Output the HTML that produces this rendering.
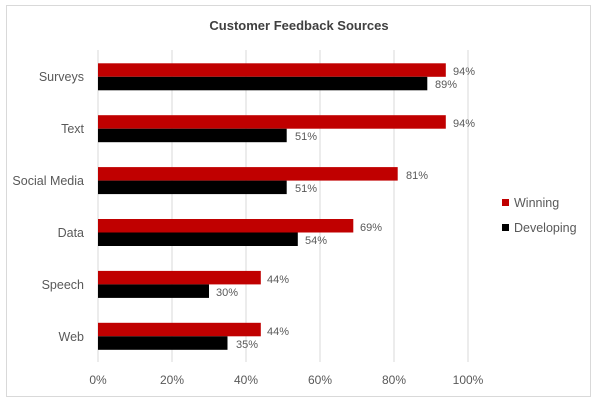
<!DOCTYPE html>
<html><head><meta charset="utf-8"><style>
html,body{margin:0;padding:0;background:#fff}
svg{display:block;font-family:"Liberation Sans",sans-serif}
</style></head><body>
<svg width="600" height="406" viewBox="0 0 600 406">
<rect x="6.5" y="5.5" width="584" height="391" fill="#fff" stroke="#d9d9d9"/>
<text x="299" y="30" text-anchor="middle" font-size="13" font-weight="bold" fill="#404040">Customer Feedback Sources</text>
<g stroke="#d9d9d9" stroke-width="1">
<line x1="98" y1="50" x2="98" y2="362"/><line x1="172" y1="50" x2="172" y2="362"/><line x1="246" y1="50" x2="246" y2="362"/><line x1="320" y1="50" x2="320" y2="362"/><line x1="394" y1="50" x2="394" y2="362"/><line x1="468" y1="50" x2="468" y2="362"/>
</g>
<g font-size="12" fill="#595959" text-anchor="middle">
<text x="98" y="384">0%</text><text x="172" y="384">20%</text><text x="246" y="384">40%</text><text x="320" y="384">60%</text><text x="394" y="384">80%</text><text x="468" y="384">100%</text>
</g>
<g font-size="12.5" fill="#595959" text-anchor="end">
<text x="84" y="81">Surveys</text><text x="84" y="133">Text</text><text x="84" y="185">Social Media</text><text x="84" y="237">Data</text><text x="84" y="289">Speech</text><text x="84" y="341">Web</text>
</g>
<g font-size="11" fill="#595959">
<rect x="98" y="63.3" width="347.8" height="13.5" fill="#c00000"/><rect x="98" y="76.8" width="329.3" height="13.5" fill="#000"/>
<text x="453" y="75">94%</text><text x="435" y="88">89%</text>
<rect x="98" y="115.2" width="347.8" height="13.5" fill="#c00000"/><rect x="98" y="128.7" width="188.7" height="13.5" fill="#000"/>
<text x="453" y="127">94%</text><text x="295" y="140">51%</text>
<rect x="98" y="167.1" width="299.7" height="13.5" fill="#c00000"/><rect x="98" y="180.6" width="188.7" height="13.5" fill="#000"/>
<text x="406" y="179">81%</text><text x="295" y="192">51%</text>
<rect x="98" y="219" width="255.3" height="13.5" fill="#c00000"/><rect x="98" y="232.5" width="199.8" height="13.5" fill="#000"/>
<text x="360" y="231">69%</text><text x="305" y="244">54%</text>
<rect x="98" y="270.9" width="162.8" height="13.5" fill="#c00000"/><rect x="98" y="284.4" width="111" height="13.5" fill="#000"/>
<text x="267" y="283">44%</text><text x="216" y="296">30%</text>
<rect x="98" y="322.8" width="162.8" height="13.5" fill="#c00000"/><rect x="98" y="336.3" width="129.5" height="13.5" fill="#000"/>
<text x="267" y="335">44%</text><text x="236" y="348">35%</text>
</g>
<rect x="502" y="199" width="7" height="7" fill="#c00000"/>
<rect x="502" y="224" width="7" height="7" fill="#000"/>
<g font-size="12.5" fill="#595959">
<text x="514" y="207">Winning</text><text x="514" y="232">Developing</text>
</g>
</svg>
</body></html>
